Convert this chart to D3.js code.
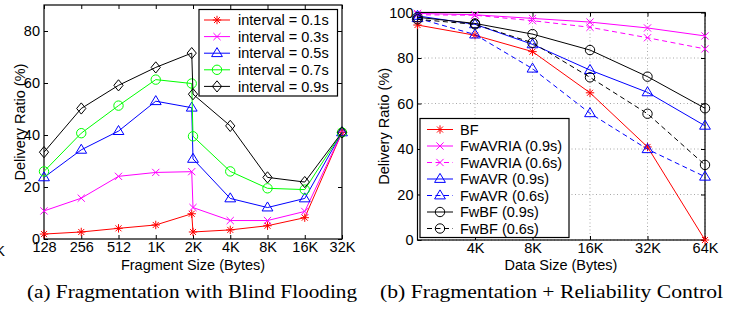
<!DOCTYPE html>
<html>
<head>
<meta charset="utf-8">
<script src="https://cdn.jsdelivr.net/npm/d3@7"></script>
<style>
  html, body { margin: 0; padding: 0; background: #fff; }
  svg { display: block; }
  text { font-family: "Liberation Sans", Arial, Helvetica, sans-serif; fill: #000; }
  .caption { font-family: "Liberation Serif", "Times New Roman", serif; font-size: 19px; }
  .tick text { font-size: 14.5px; }
  .axis-label { font-size: 14.5px; }
  .legend text { font-size: 14.5px; }
</style>
</head>
<body>
<div id="chart"></div>
<script>
// --------------------------------------
//  Data (a): fragmentation with blind flooding
// --------------------------------------

// 2K shows up twice: the curves drop straight down there
const fragSizes = [128, 256, 512, 1024, 2000, 2048, 4096, 8192, 16384, 32768];
const fragTicks = [128, 256, 512, 1024, 2048, 4096, 8192, 16384, 32768];
const fragTickLabels = ["128", "256", "512", "1K", "2K", "4K", "8K", "16K", "32K"];
const intervalNames = ["interval = 0.1s", "interval = 0.3s", "interval = 0.5s", "interval = 0.7s", "interval = 0.9s"];
const interval01 = [1.9, 2.7, 4.1, 5.4, 9.7, 2.7, 3.5, 5.1, 8.2, 41];
const interval03 = [10.8, 15.7, 24.1, 25.6, 25.9, 12.1, 7.1, 7.1, 10.6, 41];
const interval05 = [23.7, 34.3, 41.5, 53.0, 50.5, 30.8, 15.6, 12.1, 15.6, 41];
const interval07 = [26.0, 40.7, 51.3, 61.3, 59.8, 39.5, 26.0, 19.5, 19.0, 41];
const interval09 = [33.4, 50.2, 59.1, 66.0, 71.5, 55.7, 43.5, 23.7, 21.9, 41];
const yTicksA = [0, 20, 40, 60, 80];

// --------------------------------------
//  Data (b): fragmentation + reliability control
// --------------------------------------

const dataSizes = [2048, 4096, 8192, 16384, 32768, 65536];
const dataTicks = [4096, 8192, 16384, 32768, 65536];
const dataTickLabels = ["4K", "8K", "16K", "32K", "64K"];
const schemeNames = ["BF", "FwAVRIA (0.9s)", "FwAVRIA (0.6s)", "FwAVR (0.9s)", "FwAVR (0.6s)", "FwBF (0.9s)", "FwBF (0.6s)"];
const bf = [94.5, 90.0, 82.8, 64.7, 40.9, 0];
const fwavria09 = [99.6, 99.0, 97.4, 95.8, 93.2, 89.7];
const fwavria06 = [99.0, 98.8, 96.4, 93.5, 88.9, 84.0];
const fwavr09 = [98.5, 94.8, 86.0, 74.7, 64.9, 50.2];
const fwavr06 = [97.5, 90.3, 75.3, 55.7, 39.9, 27.8];
const fwbf09 = [97.9, 95.2, 90.5, 83.5, 71.8, 57.9];
const fwbf06 = [97.0, 94.8, 86.7, 71.5, 55.5, 33.0];
const yTicksB = [0, 20, 40, 60, 80, 100];

// --------------------------------------
//  Canvas
// --------------------------------------

const width = 736;
const height = 309;

const svg = d3.select("#chart")
  .append("svg")
    .attr("width", width)
    .attr("height", height)
    .attr("viewBox", `0 0 ${width} ${height}`);

// --------------------------------------
//  Markers (matlab style)
// --------------------------------------

function markerPath(type) {
  const p = d3.path();
  if (type === "star") {
    const a = 4.2, b = 3.0;
    p.moveTo(-a, 0); p.lineTo(a, 0);
    p.moveTo(0, -a); p.lineTo(0, a);
    p.moveTo(-b, -b); p.lineTo(b, b);
    p.moveTo(-b, b); p.lineTo(b, -b);
  } else if (type === "x") {
    const b = 3.6;
    p.moveTo(-b, -b); p.lineTo(b, b);
    p.moveTo(-b, b); p.lineTo(b, -b);
  } else if (type === "tri") {
    p.moveTo(0, -5.6); p.lineTo(5.4, 3.4); p.lineTo(-5.4, 3.4); p.closePath();
  } else if (type === "circle") {
    p.moveTo(4.7, 0); p.arc(0, 0, 4.7, 0, 2 * Math.PI);
  } else if (type === "diamond") {
    p.moveTo(0, -5.6); p.lineTo(4.6, 0); p.lineTo(0, 5.6); p.lineTo(-4.6, 0); p.closePath();
  }
  return p.toString();
}

// frame with inward ticks on all four sides
function drawFrame(g, x, y, xTicks, xLabels, yTicks, w, h) {
  g.append("g")
    .attr("class", "x-axis")
    .attr("transform", `translate(0, ${h})`)
    .call(d3.axisBottom(x)
      .tickValues(xTicks)
      .tickFormat((d, i) => xLabels[i])
      .tickSizeInner(-4)
      .tickSizeOuter(0)
      .tickPadding(3));

  g.append("g")
    .call(d3.axisTop(x).tickValues(xTicks).tickFormat("").tickSizeInner(-4).tickSizeOuter(0));

  g.append("g")
    .attr("class", "y-axis")
    .call(d3.axisLeft(y)
      .tickValues(yTicks)
      .tickSizeInner(-4)
      .tickSizeOuter(0)
      .tickPadding(4));

  g.append("g")
    .attr("transform", `translate(${w}, 0)`)
    .call(d3.axisRight(y).tickValues(yTicks).tickFormat("").tickSizeInner(-4).tickSizeOuter(0));

  g.selectAll(".domain").remove();
  g.selectAll(".tick line").attr("stroke", "#000").attr("stroke-width", 1);
  g.selectAll(".tick text").attr("fill", "#000").attr("font-family", null).attr("font-size", null);

  g.append("rect")
    .attr("width", w)
    .attr("height", h)
    .attr("fill", "none")
    .attr("stroke", "#000")
    .attr("stroke-width", 1.2);
}

function drawSeries(g, x, y, xs, s) {
  const line = d3.line()
    .x((d, i) => x(xs[i]))
    .y(d => y(d));

  g.append("path")
    .datum(s.values)
    .attr("d", line)
    .attr("fill", "none")
    .attr("stroke", s.color)
    .attr("stroke-width", 1)
    .attr("stroke-dasharray", s.dash ? "5,3.5" : null);

  g.append("g")
    .selectAll("path")
    .data(s.values)
    .join("path")
      .attr("transform", (d, i) => `translate(${x(xs[i])}, ${y(d)})`)
      .attr("d", markerPath(s.marker))
      .attr("fill", "none")
      .attr("stroke", s.color)
      .attr("stroke-width", 1);
}

function drawLegend(parent, box, rows, series) {
  const lg = parent.append("g").attr("class", "legend");
  lg.append("rect")
    .attr("x", box.x).attr("y", box.y)
    .attr("width", box.w).attr("height", box.h)
    .attr("fill", "#fff")
    .attr("stroke", "#000")
    .attr("stroke-width", 1.2);

  const item = lg.selectAll(".item")
    .data(series)
    .join("g")
      .attr("class", "item")
      .attr("transform", (d, i) => `translate(${box.x}, ${rows.y0 + i * rows.step})`);

  item.append("line")
    .attr("x1", rows.lx).attr("x2", rows.lx + 26)
    .attr("stroke", d => d.color)
    .attr("stroke-width", 1)
    .attr("stroke-dasharray", d => d.dash ? "5,3.5" : null);

  item.append("path")
    .attr("transform", `translate(${rows.lx + 13}, 0)`)
    .attr("d", d => markerPath(d.marker))
    .attr("fill", "none")
    .attr("stroke", d => d.color);

  item.append("text")
    .attr("x", rows.tx)
    .attr("dy", "0.36em")
    .text(d => d.name);
}

// LaTeX caption, glyphs a bit wide in the scan so stretch to the measured span
function caption(txt, x0, x1, y) {
  svg.append("text")
    .attr("class", "caption")
    .attr("x", x0)
    .attr("y", y)
    .attr("textLength", x1 - x0)
    .attr("lengthAdjust", "spacingAndGlyphs")
    .text(txt);
}

// --------------------------------------
//  Panel (a)
// --------------------------------------

const mA = {left: 44, top: 5};
const wA = 298, hA = 234;
const gA = svg.append("g").attr("transform", `translate(${mA.left}, ${mA.top})`);

const xA = d3.scaleLog().base(2).domain([128, 32768]).range([0, wA]);
const yA = d3.scaleLinear().domain([0, 90]).range([hA, 0]);

const seriesA = [
  {name: intervalNames[0], values: interval01, color: "#ff0000", marker: "star"},
  {name: intervalNames[1], values: interval03, color: "#ff00ff", marker: "x"},
  {name: intervalNames[2], values: interval05, color: "#0000ff", marker: "tri"},
  {name: intervalNames[3], values: interval07, color: "#00ff00", marker: "circle"},
  {name: intervalNames[4], values: interval09, color: "#000000", marker: "diamond"}
];

drawFrame(gA, xA, yA, fragTicks, fragTickLabels, yTicksA, wA, hA);
seriesA.forEach(s => drawSeries(gA, xA, yA, fragSizes, s));

drawLegend(svg, {x: 199, y: 9.5, w: 138.5, h: 86.5}, {y0: 20, step: 16.6, lx: 5, tx: 39}, seriesA);

svg.append("text")
  .attr("class", "axis-label")
  .attr("x", mA.left + wA / 2)
  .attr("y", 270)
  .attr("text-anchor", "middle")
  .text("Fragment Size (Bytes)");

svg.append("text")
  .attr("class", "axis-label")
  .attr("transform", `translate(25, ${mA.top + hA / 2}) rotate(-90)`)
  .attr("text-anchor", "middle")
  .text("Delivery Ratio (%)");

// leftover label of the neighbouring figure
svg.append("text")
  .attr("class", "axis-label")
  .attr("x", 5)
  .attr("y", 256)
  .attr("text-anchor", "end")
  .text("64K");

caption("(a) Fragmentation with Blind Flooding", 27, 357, 298);

// --------------------------------------
//  Panel (b)
// --------------------------------------

const mB = {left: 417.5, top: 12.5};
const wB = 287.5, hB = 227.5;
const gB = svg.append("g").attr("transform", `translate(${mB.left}, ${mB.top})`);

const xB = d3.scaleLog().base(2).domain([2048, 65536]).range([0, wB]);
const yB = d3.scaleLinear().domain([0, 100]).range([hB, 0]);

// dotted grid
gB.append("g")
  .selectAll("line")
  .data(dataTicks)
  .join("line")
    .attr("x1", d => xB(d)).attr("x2", d => xB(d))
    .attr("y1", 0).attr("y2", hB)
    .attr("stroke", "#a8a8a8")
    .attr("stroke-dasharray", "1,2.5");

gB.append("g")
  .selectAll("line")
  .data(yTicksB)
  .join("line")
    .attr("x1", 0).attr("x2", wB)
    .attr("y1", d => yB(d)).attr("y2", d => yB(d))
    .attr("stroke", "#a8a8a8")
    .attr("stroke-dasharray", "1,2.5");

const seriesB = [
  {name: schemeNames[0], values: bf, color: "#ff0000", marker: "star", dash: false},
  {name: schemeNames[1], values: fwavria09, color: "#ff00ff", marker: "x", dash: false},
  {name: schemeNames[2], values: fwavria06, color: "#ff00ff", marker: "x", dash: true},
  {name: schemeNames[3], values: fwavr09, color: "#0000ff", marker: "tri", dash: false},
  {name: schemeNames[4], values: fwavr06, color: "#0000ff", marker: "tri", dash: true},
  {name: schemeNames[5], values: fwbf09, color: "#000000", marker: "circle", dash: false},
  {name: schemeNames[6], values: fwbf06, color: "#000000", marker: "circle", dash: true}
];

drawFrame(gB, xB, yB, dataTicks, dataTickLabels, yTicksB, wB, hB);
seriesB.forEach(s => drawSeries(gB, xB, yB, dataSizes, s));

drawLegend(svg, {x: 420, y: 118.5, w: 149, h: 119}, {y0: 129.5, step: 16.5, lx: 7, tx: 40}, seriesB);

svg.append("text")
  .attr("class", "axis-label")
  .attr("x", 561)
  .attr("y", 270)
  .attr("text-anchor", "middle")
  .text("Data Size (Bytes)");

svg.append("text")
  .attr("class", "axis-label")
  .attr("transform", `translate(389, ${mB.top + hB / 2}) rotate(-90)`)
  .attr("text-anchor", "middle")
  .text("Delivery Ratio (%)");

caption("(b) Fragmentation + Reliability Control", 380, 723, 298);
</script>
</body>
</html>
